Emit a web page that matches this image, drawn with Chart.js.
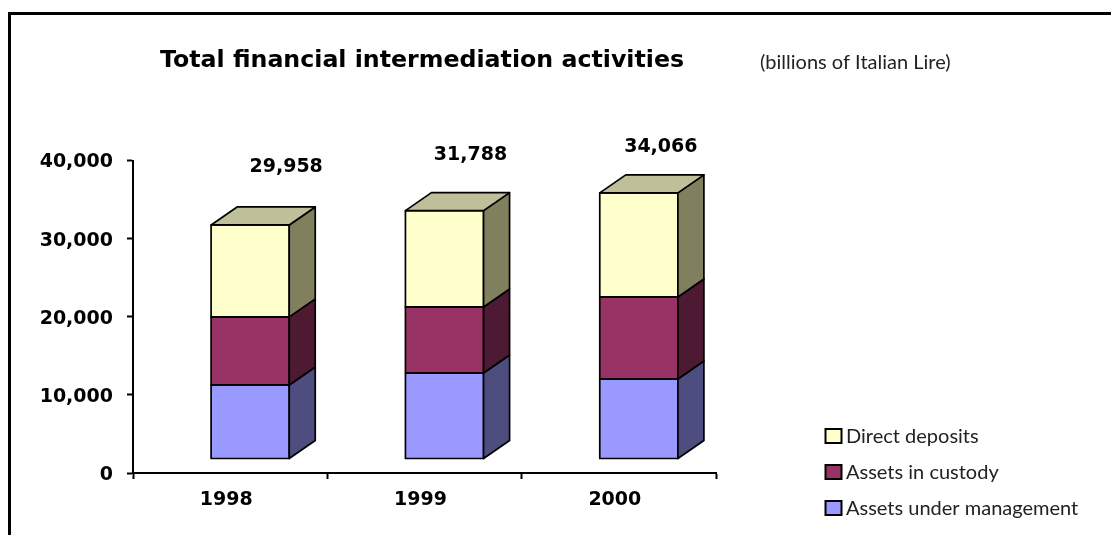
<!DOCTYPE html>
<html>
<head>
<meta charset="utf-8">
<title>Total financial intermediation activities</title>
<script src="https://cdn.jsdelivr.net/npm/chart.js@4"></script>
<style>
  html, body { margin: 0; padding: 0; width: 1111px; height: 535px; overflow: hidden; background: #fff; }
  #frame { position: absolute; left: 8px; top: 12px; width: 1200px; height: 600px; border: 3px solid #000; }
  #chart { position: absolute; left: 0; top: 0; }
</style>
</head>
<body>
<div id="frame"></div>
<canvas id="chart" width="1111" height="535"></canvas>
<script>
const years = ["1998", "1999", "2000"];
const yTicks = [0, 10000, 20000, 30000, 40000];
const assetsManaged = [9480, 11000, 10240];
const assetsCustody = [8710, 8460, 10500];
const directDeposits = [11768, 12328, 13326];
const totals = [29958, 31788, 34066];

const LABEL_FONT = "bold 19px 'DejaVu Sans'";
const SMALL_FONT = "20px Lato";

// the cube sits in front of the axes, shifted off the category centre
const SHIFT_X = 20;
const SHIFT_Y = -14;
const DEPTH_X = 26;
const DEPTH_Y = -18;

// where each total sits relative to the top of its bar
const totalOffsets = [[36, -53], [26, -51], [22, -41]];

const sideColors = ["#4d4d80", "#4d1933", "#80805f"];
const topColor = "#bfbf99";

function fmt(n) {
  return n.toLocaleString("en-US");
}

function poly(ctx, pts, fill) {
  ctx.beginPath();
  pts.forEach((p, i) => (i ? ctx.lineTo(p[0], p[1]) : ctx.moveTo(p[0], p[1])));
  ctx.closePath();
  ctx.fillStyle = fill;
  ctx.fill();
  ctx.stroke();
}

// moves the bars off the axis and adds the outlines, side and top faces
const cubePlugin = {
  id: "cube",
  beforeDatasetsDraw(chart) {
    chart.ctx.save();
    chart.ctx.translate(SHIFT_X, SHIFT_Y);
  },
  afterDatasetsDraw(chart) {
    const ctx = chart.ctx;
    ctx.strokeStyle = "#000";
    ctx.lineWidth = 1.7;
    ctx.lineJoin = "round";
    chart.data.datasets.forEach((ds, i) => {
      chart.getDatasetMeta(i).data.forEach((bar) => {
        const right = bar.x + bar.width / 2;
        const left = bar.x - bar.width / 2;
        // stroked here so neighbouring segments share a single line
        ctx.strokeRect(left, bar.y, bar.width, bar.base - bar.y);
        poly(ctx, [
          [right, bar.y],
          [right + DEPTH_X, bar.y + DEPTH_Y],
          [right + DEPTH_X, bar.base + DEPTH_Y],
          [right, bar.base],
        ], sideColors[i]);
        if (i === chart.data.datasets.length - 1) {
          poly(ctx, [
            [left, bar.y],
            [left + DEPTH_X, bar.y + DEPTH_Y],
            [right + DEPTH_X, bar.y + DEPTH_Y],
            [right, bar.y],
          ], topColor);
        }
      });
    });
    ctx.restore();
  },
  afterDraw(chart) {
    const ctx = chart.ctx;
    const { x, y } = chart.scales;
    ctx.save();
    ctx.textBaseline = "alphabetic";
    ctx.fillStyle = "#000";

    ctx.font = "bold 23.7px 'DejaVu Sans'";
    ctx.textAlign = "left";
    ctx.fillText("Total financial intermediation activities", 160, 67);

    ctx.font = SMALL_FONT;
    ctx.fillStyle = "#222";
    ctx.fillText("(billions of Italian Lire)", 760, 69);

    // totals above the stacks
    ctx.font = LABEL_FONT;
    ctx.fillStyle = "#000";
    ctx.textAlign = "center";
    totals.forEach((total, i) => {
      const barX = x.getPixelForValue(i) + SHIFT_X;
      const barY = y.getPixelForValue(total) + SHIFT_Y;
      ctx.fillText(fmt(total), barX + totalOffsets[i][0], barY + totalOffsets[i][1]);
    });

    // legend, top entry is the top of the stack
    ctx.textAlign = "left";
    ctx.lineWidth = 2;
    ctx.strokeStyle = "#000";
    chart.data.datasets.slice().reverse().forEach((ds, i) => {
      const rowY = 429 + i * 36;
      ctx.fillStyle = ds.backgroundColor;
      ctx.fillRect(825.5, rowY, 16, 14);
      ctx.strokeRect(825.5, rowY, 16, 14);
      ctx.font = SMALL_FONT;
      ctx.fillStyle = "#222";
      ctx.fillText(ds.label, 846, rowY + 14);
    });
    ctx.restore();
  },
};

new Chart(document.getElementById("chart"), {
  type: "bar",
  data: {
    labels: years,
    datasets: [
      { label: "Assets under management", data: assetsManaged, backgroundColor: "#9999ff" },
      { label: "Assets in custody", data: assetsCustody, backgroundColor: "#993366" },
      { label: "Direct deposits", data: directDeposits, backgroundColor: "#ffffcc" },
    ],
  },
  plugins: [cubePlugin],
  options: {
    responsive: false,
    animation: false,
    clip: false,
    layout: { padding: { left: 33, top: 160.5, right: 395, bottom: 22 } },
    datasets: {
      bar: {
        barPercentage: 1,
        categoryPercentage: 78 / 194,
        borderWidth: 0,
      },
    },
    plugins: { legend: { display: false }, title: { display: false }, tooltip: { enabled: false } },
    scales: {
      x: {
        stacked: true,
        afterFit(scale) { scale.height = 40; },
        border: { color: "#000", width: 2 },
        grid: { offset: true, drawOnChartArea: false, color: "#000", tickLength: 6, tickWidth: 2 },
        ticks: { color: "#000", font: { family: "DejaVu Sans", size: 19, weight: "bold" }, labelOffset: -4, padding: 10, maxRotation: 0 },
      },
      y: {
        stacked: true,
        min: 0,
        max: 40000,
        afterFit(scale) { scale.width = 100; },
        afterBuildTicks(scale) { scale.ticks = yTicks.map((value) => ({ value })); },
        border: { color: "#000", width: 2 },
        grid: { drawOnChartArea: false, color: "#000", tickLength: 6, tickWidth: 2 },
        ticks: { color: "#000", font: { family: "DejaVu Sans", size: 19, weight: "bold" }, padding: 14, labelOffset: 2, callback: (v) => fmt(v) },
      },
    },
  },
});
</script>
</body>
</html>
